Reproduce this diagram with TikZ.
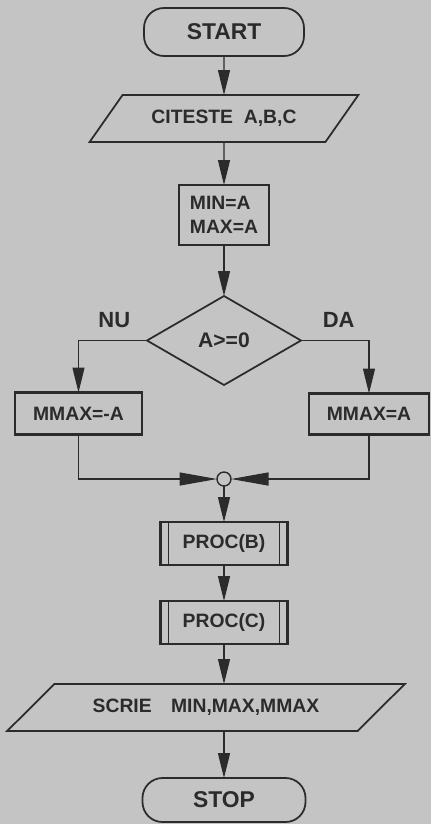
\documentclass[tikz,border=0pt]{standalone}
\usepackage{fontspec}
\setmainfont{Liberation Sans}
\usetikzlibrary{arrows.meta,positioning,shapes.geometric}
\definecolor{ChartInk}{HTML}{2B2B2B}
\definecolor{ChartPaper}{HTML}{C4C4C4}

\begin{document}
\begin{tikzpicture}[
  node distance=8mm,
  lbl/.style={text=ChartInk,outer sep=0pt,font=\fontsize{11}{14}\selectfont\bfseries},
  terminal/.style={lbl,draw=ChartInk,line width=1pt,rounded corners=4mm,minimum width=32mm,minimum height=9.6mm,font=\fontsize{13}{15}\selectfont\bfseries},
  io/.style={lbl,draw=ChartInk,line width=1pt,trapezium,trapezium stretches=true,minimum height=9.4mm,inner sep=0pt},
  box/.style={lbl,draw=ChartInk,line width=1.2pt,inner sep=2pt},
  decision/.style={lbl,draw=ChartInk,line width=1pt,diamond,minimum width=30.8mm,minimum height=17.8mm,inner sep=0pt,font=\fontsize{12}{14}\selectfont\bfseries},
  sub/.style={box,minimum width=25.4mm,minimum height=8.6mm},
  junction/.style={draw=ChartInk,line width=0.8pt,circle,fill=ChartPaper,minimum size=2.8mm,inner sep=0pt,outer sep=0pt},
  flow/.style={draw=ChartInk,line width=0.7pt,-{Triangle[length=5mm,width=2.4mm]}},
  joinflow/.style={flow,-{Triangle[length=7.5mm,width=2.6mm]}}
]
  \useasboundingbox (0,0) rectangle (8.62,-16.48);
  \fill[ChartPaper] (0,0) rectangle (8.62,-16.48);

  \node[terminal] (start) at (4.48,-0.64) {START};
  \node[io,trapezium left angle=35,trapezium right angle=145,minimum width=53.8mm,below=7.8mm of start] (read) {CITESTE\ \ A,B,C};
  \node[box,minimum width=18mm,minimum height=12mm,align=left,below=8.6mm of read] (init) {MIN=A\\MAX=A};
  \node[decision,below=10.2mm of init] (test) {A>=0};
  \node[lbl,font=\fontsize{12.5}{14}\selectfont\bfseries,above left=1.4mm and 2.2mm of test.west] (nu) {NU};
  \node[lbl,font=\fontsize{12.5}{14}\selectfont\bfseries,above right=1.4mm and 3.2mm of test.east] (da) {DA};
  \node[box,minimum width=25.4mm,minimum height=8.4mm,below=10.4mm of test.west,xshift=-13.7mm] (neg) {MMAX=-A};
  \node[box,minimum width=24mm,minimum height=8.2mm,below=10.6mm of test.east,xshift=13.6mm] (pos) {MMAX=A};
  \node[junction,below=17.4mm of test] (join) {};
  \node[sub,below=7.2mm of join] (procb) {PROC(B)};
  \node[sub,below=7.2mm of procb] (procc) {PROC(C)};
  \node[io,trapezium left angle=25,trapezium right angle=155,minimum width=79.6mm,below=8mm of procc,xshift=-3.6mm] (write) {SCRIE\quad MIN,MAX,MMAX};
  \node[terminal,minimum width=32.6mm,minimum height=8.8mm,below=9.4mm of write,xshift=3.6mm] (stop) {STOP};

  % double side lines of the sub-process boxes
  \foreach \n in {procb,procc} {
    \draw[ChartInk,line width=1pt] ([xshift=1.6mm]\n.north west) -- ([xshift=1.6mm]\n.south west);
    \draw[ChartInk,line width=1pt] ([xshift=-1.6mm]\n.north east) -- ([xshift=-1.6mm]\n.south east);
  }

  \draw[flow] (start) -- (read);
  \draw[flow] (read) -- (init);
  \draw[flow] (init) -- (test);
  \draw[flow] (test.west) -| (neg.north);
  \draw[flow] (test.east) -| (pos.north);
  \draw[joinflow] (neg.south) |- (join.west);
  \draw[joinflow] (pos.south) |- (join.east);
  \draw[flow] (join) -- (procb);
  \draw[flow] (procb) -- (procc);
  \draw[flow] (procc.south) -- (procc |- write.north);
  \draw[flow] (write.south -| stop) -- (stop);
\end{tikzpicture}
\end{document}
